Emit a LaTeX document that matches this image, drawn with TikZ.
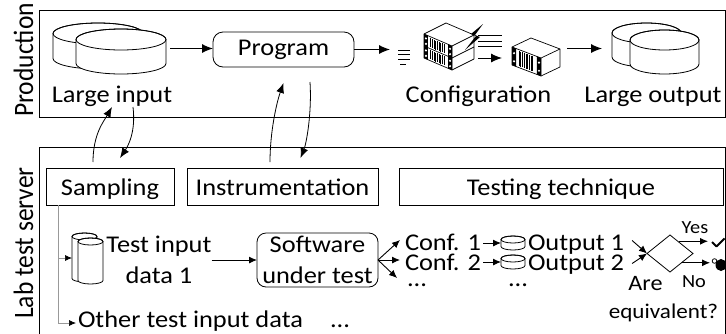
\documentclass[tikz,border=0pt]{standalone}
\usepackage{fontspec}
\usepackage{graphicx}
\setmainfont{Carlito}[FakeStretch=1.1]
\newfontfamily\sidefont{Carlito}
\usetikzlibrary{arrows.meta,calc,shapes.geometric}

% upright cylinder: centre x, top-ellipse centre y, x radius, y radius, height
\newcommand\drum[5]{%
  \filldraw[fill=white,line width=0.8pt] ({#1-#3},#2) -- ({#1-#3},{#2+#5})
    arc[start angle=180,end angle=0,x radius=#3,y radius=#4] -- ({#1+#3},#2)
    arc[start angle=0,end angle=-180,x radius=#3,y radius=#4] -- cycle;
  \draw[line width=0.8pt] (#1,#2) ellipse[x radius=#3,y radius=#4];
}

% front panel of one rack unit: top-left corner, top-right corner, unit height
\newcommand\rackface[3]{%
  \fill (#1) -- ($(#1)!0.14!(#2)$) -- ++(0,#3) -- ($(#1)+(0,#3)$) -- cycle;
  \fill ($(#1)!0.86!(#2)$) -- (#2) -- ++(0,#3) -- ($(#1)!0.86!(#2)+(0,#3)$) -- cycle;
  \fill[white] ($(#1)!0.07!(#2)+(0,{0.3*#3})$) circle[radius=1.2];
  \fill[white] ($(#1)!0.07!(#2)+(0,{0.75*#3})$) circle[radius=1.2];
  \fill[white] ($(#1)!0.93!(#2)+(0,{0.3*#3})$) circle[radius=1.2];
  \fill[white] ($(#1)!0.93!(#2)+(0,{0.75*#3})$) circle[radius=1.2];
  \foreach \vv in {0.24,0.30,0.36,0.42,0.48,0.54,0.60,0.66,0.72}
    \draw[line width=0.8pt] ($(#1)!\vv!(#2)+(0,1.5)$) -- ++(0,{#3-3});
}

\begin{document}
\begin{tikzpicture}[x=1pt,y=-1pt,
  every node/.style={inner sep=0pt, outer sep=0pt},
  font=\fontsize{24}{29}\selectfont,
  frame/.style={line width=1pt},
  tbox/.style={draw, line width=0.8pt, minimum height=37pt, text height=20pt, text depth=3pt},
  lbl/.style={text height=15pt, text depth=4pt},
  icon/.style={inner sep=0pt},
  arr/.style={-{Latex[length=11pt,width=9pt]}, line width=1pt},
  arrs/.style={-{Latex[length=8pt,width=7pt]}, line width=0.9pt},
  loop/.style={-{Latex[length=10pt,width=8pt]}, line width=0.8pt},
  feed/.style={draw=gray!80, line width=0.7pt, -{Latex[length=7pt,width=6pt,color=black]}},
  sidelabel/.style={rotate=90, anchor=base, font=\sidefont\fontsize{25.5}{30}\selectfont},
  two/.style={align=center, font=\fontsize{24}{31}\selectfont},
]
\useasboundingbox (0,0) rectangle (726,333);
\clip (0,0) rectangle (726,333);

% ---------- frames and side labels ----------
\draw[frame] (39,10) rectangle (725,117);
\draw[frame] (39,147) rectangle (725,345);
\node[sidelabel] (plab) at (33,60) {\scalebox{1}[1.1]{Production}};
\node[sidelabel] (llab) at (33,243) {\scalebox{1}[1.1]{Lab test server}};

% ---------- production row ----------
\drum{98}{33.5}{45}{10.5}{25}
\drum{121}{39.5}{45}{10.5}{24}
\node[icon, minimum width=117pt, minimum height=51pt] (indrum) at (111.5,48.5) {};
\node[anchor=base, lbl] (lin) at (112,102) {Large input};

\node[draw, line width=0.8pt, rounded corners=10pt, minimum width=141pt, minimum height=35pt,
      text height=16pt, text depth=5pt] (prog) at (283.5,49.5) {Program};

% big server with speed lines and lightning
\node[icon, minimum width=88pt, minimum height=50pt] (bigsrv) at (434,47) {};
\foreach \yy in {50,54,59} \draw[line width=0.7pt] (398,\yy) -- (410,\yy);
\draw[line width=0.7pt] (400,64) -- (406,64);
\coordinate (bA) at (424,34); \coordinate (bB) at (452,46);
\coordinate (bC) at (452,70); \coordinate (bD) at (424,58);
\coordinate (bE) at (446,23); \coordinate (bF) at (474,35);
\coordinate (bG) at (474,59);
\coordinate (bM) at (424,46); \coordinate (bN) at (452,58);
\filldraw[fill=white, line width=0.7pt, line join=round]
  (bA) -- (bE) -- (bF) -- (bG) -- (bC) -- (bD) -- cycle;
\draw[line width=0.7pt] (bA) -- (bB) -- (bC) (bB) -- (bF);
\draw[line width=0.7pt] (bM) -- (bN) -- ($(bF)!0.5!(bG)$);
\rackface{bA}{bB}{12}
\rackface{bM}{bN}{12}
\fill (483,24) -- (471,34) -- (476,36) -- (465,50) -- (480,37) -- (475,35) -- cycle;
\foreach \yy in {35,41,46} \draw[line width=0.7pt] (478,\yy) -- (502,\yy);

% small server
\node[icon, minimum width=54pt, minimum height=42pt] (smallsrv) at (535,57) {};
\coordinate (sA) at (512,47); \coordinate (sB) at (541,58);
\coordinate (sC) at (541,76); \coordinate (sD) at (512,65);
\coordinate (sE) at (531,38); \coordinate (sF) at (560,49);
\coordinate (sG) at (560,67);
\filldraw[fill=white, line width=0.7pt, line join=round]
  (sA) -- (sE) -- (sF) -- (sG) -- (sC) -- (sD) -- cycle;
\draw[line width=0.7pt] (sA) -- (sB) -- (sC) (sB) -- (sF);
\rackface{sA}{sB}{18}
\node[anchor=base, lbl] (conf) at (478.5,102) {Configuration};

\drum{646.5}{33}{34.5}{10}{24}
\drum{664.5}{40}{34.5}{10}{24}
\node[icon, minimum width=97pt, minimum height=51pt] (outdrum) at (650.5,48.5) {};
\node[anchor=base, lbl] (lout) at (653,102) {Large output};

\draw[arr] (indrum.east) -- (indrum.east -| prog.west);
\draw[arr] (prog.east) -- (prog.east -| bigsrv.west);
\draw[arr] ($(bigsrv.east)+(0,11)$) -- ($(smallsrv.west)+(-6,1)$);
\draw[arr] ($(smallsrv.east)+(5,-8.5)$) -- (outdrum.west);

% ---------- lab row ----------
\node[tbox, minimum width=128pt] (samp) at (110,186.5) {Sampling};
\node[tbox, minimum width=191pt] (instr) at (282.5,186.5) {Instrumentation};
\node[tbox, minimum width=324pt] (tech) at (561,186.5) {Testing technique};

% exchanges between production and the lab
\draw[loop] ($(samp.north)+(-17,-6)$) .. controls +(0,-28) and +(-8,14) .. ($(lin.south)+(0,1)$);
\draw[loop] ($(lin.south)+(21,1)$) .. controls +(3,25) and +(8,-12) .. ($(samp.north)+(10,-10)$);
\draw[loop] ($(instr.north)+(-12.5,-6)$) .. controls +(0,-30) and +(-7,20) .. ($(prog.south)+(0,16)$);
\draw[loop] ($(prog.south)+(26.5,15)$) .. controls +(2,30) and +(6,-15) .. ($(instr.north)+(18,-10)$);

% test inputs
\drum{84.5}{236.5}{12.5}{3.5}{42}
\drum{90.5}{241.5}{12.5}{3.5}{39}
\node[icon, minimum width=31pt, minimum height=50pt] (testdrum) at (87.5,258) {};
\node[two, anchor=base] (tin) at (159,283) {Test input\\data 1};
\node[anchor=base west, lbl] (other) at (78,327.5) {Other test input data};
\node[anchor=base west, lbl] (odots) at (330,327.5) {...};
\draw[feed] ($(samp.south west)+(12,53)$) -- (testdrum.west);
\draw[feed, shorten >=2pt] ($(samp.south west)+(12,0)$) |- ($(other.west)+(0,1)$);

\node[draw, line width=0.8pt, rounded corners=9pt, minimum width=121pt, minimum height=54pt,
      two] (sut) at (317.5,260) {Software\\under test};
\draw[arrs] (tin.east |- sut.west) -- (sut.west);

\node[anchor=base west, lbl] (conf1) at (405,250) {Conf. 1};
\node[anchor=base west, lbl] (conf2) at (405,270) {Conf. 2};
\node[anchor=base west, lbl] (cdots) at (407,286) {...};
\draw[arrs] (sut.east) -- ($(conf1.west)+(-5,-4.5)$);
\draw[arrs] (sut.east) -- ($(conf2.west)+(-5,-4.5)$);
\draw[arrs] (sut.east) -- ($(cdots.west)+(-10,-2.5)$);

\drum{513}{239.5}{12}{3.5}{7}
\drum{513}{258.5}{12}{3.5}{7}
\node[icon, minimum width=24pt, minimum height=14pt] (odrum1) at (513,243) {};
\node[icon, minimum width=24pt, minimum height=14pt] (odrum2) at (513,262) {};
\draw[arrs, shorten <=2pt] (conf1.east |- odrum1.west) -- (odrum1.west);
\draw[arrs, shorten <=2pt] (conf2.east |- odrum2.west) -- (odrum2.west);

\node[anchor=base west, lbl] (out1) at (528,250) {Output 1};
\node[anchor=base west, lbl] (out2) at (528,270) {Output 2};
\node[anchor=base west, lbl] (outdots) at (508,286) {...};

% equivalence check
\node[draw, diamond, line width=0.8pt, minimum width=46pt, minimum height=37pt] (dia) at (670,253.5) {};
\draw[arrs] ($(out1.east)+(8,-4)$) -- (dia.west);
\draw[arrs] ($(out2.east)+(8,-1)$) -- (dia.west);

\node[icon, minimum width=13pt, minimum height=9pt] (chk) at (718.5,242.5) {};
\draw[line width=2pt, line join=round] (712,242) -- (716.5,246.5) -- (724.5,238.5);
\node[icon, minimum width=12pt, minimum height=12pt] (bug) at (720,264) {};
\fill (721,265) ellipse[x radius=5.5, y radius=6];
\draw[line width=0.8pt] (714.5,261) circle[radius=2.3];

\coordinate (yesstart) at ($(dia.north east)+(-3,-3)$);
\draw[arrs, shorten >=4pt] (yesstart) -- (yesstart -| chk.west);
\draw[arrs, shorten >=4pt] (dia.south east) -- (dia.south east -| bug.west);

\node[anchor=base, font=\fontsize{18.5}{21}\selectfont] (yes) at (695,233) {Yes};
\node[anchor=base, font=\fontsize{18.5}{21}\selectfont] (no) at (694,287) {No};
\node[anchor=base, font=\fontsize{22}{26}\selectfont] (are) at (645.5,290) {Are};
\node[anchor=base, font=\fontsize{21}{25}\selectfont] (equiv) at (663.5,318) {equivalent?};
\end{tikzpicture}
\end{document}
